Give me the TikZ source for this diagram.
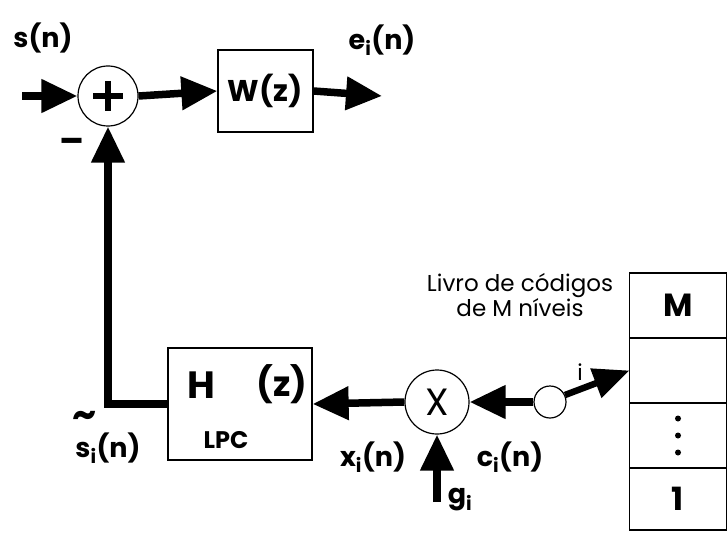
\documentclass[tikz,border=0pt]{standalone}
\usepackage{fontspec}
\setmainfont{Poppins}
\usepackage{tikz}
\usetikzlibrary{arrows.meta, positioning, calc}

\begin{document}
\begin{tikzpicture}[
    x=1pt, y=-1pt,
    block/.style={draw, rectangle, line width=1.3pt, inner sep=0pt, font=\fontsize{30}{34}\selectfont\bfseries},
    junction/.style={draw, circle, line width=1.2pt, inner sep=0pt, font=\fontsize{38}{40}\selectfont},
    cell/.style={draw, rectangle, line width=1.3pt, minimum width=97pt, minimum height=65pt, outer sep=0pt, font=\fontsize{32}{34}\selectfont\bfseries},
    lbl/.style={font=\fontsize{27}{30}\selectfont\bfseries, inner sep=0pt},
    arrow/.style={line width=7.5pt, -{Triangle[length=36pt, width=32pt]}}
]
\useasboundingbox (0,0) rectangle (727,532);

% Nodes
\node (sum) [junction, minimum size=60pt] at (108,96) {};
\node (wz) [block, minimum width=95pt, minimum height=82pt] at (265.5,91) {W(z)};
\node (hz) [block, minimum width=144pt, minimum height=112pt] at (240,404) {};
\node (mult) [junction, minimum size=64pt] at (437,402) {X};
\node (sw) [junction, minimum size=32pt] at (550,402) {};
\node (cM) [cell] at (678,305.5) {M};
\node (c2) [cell, below=0pt of cM] {};
\node (c3) [cell, below=0pt of c2] {};
\node (c1) [cell, below=0pt of c3, minimum height=62pt] {1};

\coordinate (in) at (22,96);
\coordinate (out) at (382,96);
\coordinate (gin) at (437,502);

% plus sign and dots
\draw[line width=6.5pt] ($(sum.center)+(-15,0)$) -- ($(sum.center)+(15,0)$);
\draw[line width=6.5pt] ($(sum.center)+(0,-15)$) -- ($(sum.center)+(0,15)$);
\foreach \d in {-17,0,17}
    \fill ($(c3.center)+(0,\d)$) circle (3pt);

% Labels
\node[lbl, font=\fontsize{38}{40}\selectfont\bfseries] (hlbl) at (201,385) {H};
\node[lbl, font=\fontsize{35}{38}\selectfont\bfseries] (zlbl) at (282,384) {(z)};
\node[font=\fontsize{24}{26}\selectfont\bfseries, inner sep=0pt] (lpc) at (226,440) {LPC};
\node[lbl] (sn) at (43,38) {s(n)};
\node[lbl] (en) at (382,40) {e\textsubscript{i}(n)};
\node[font=\fontsize{36}{36}\selectfont\bfseries] (minus) at (72,146) {--};
\node[font=\fontsize{38}{38}\selectfont\bfseries, inner sep=0pt] (tld) at (85,419) {\textasciitilde};
\node[lbl] (sten) at (108,448) {s\textsubscript{i}(n)};
\node[lbl] (xn) at (373,457) {x\textsubscript{i}(n)};
\node[lbl] (cn) at (510,457) {c\textsubscript{i}(n)};
\node[lbl] (gi) at (460,500) {g\textsubscript{i}};
\node[font=\fontsize{22}{22}\selectfont, inner sep=0pt] (idx) at (580,372) {i};
\node[font=\fontsize{23}{25}\selectfont, align=center] (book) at (520,295) {Livro de códigos\\de M níveis};

% Links
\draw[arrow] (in) -- (sum.west);
\draw[arrow] (sum.east) -- (wz.west);
\draw[arrow] (wz.east) -- (out);
\draw[arrow, -] (hz.west) -| ($(sum.south)+(0,30)$);
\draw[arrow] ($(sum.south)+(0,31)$) -- (sum.south);
\draw[arrow] (mult.west) -- (hz.east);
\draw[arrow] (gin) -- (mult.south);
\draw[arrow] (sw.west) -- (mult.east);
\draw[line width=6.5pt, -{Triangle[length=36pt, width=30pt]}] (sw.25) -- (c2.west);

\end{tikzpicture}
\end{document}
